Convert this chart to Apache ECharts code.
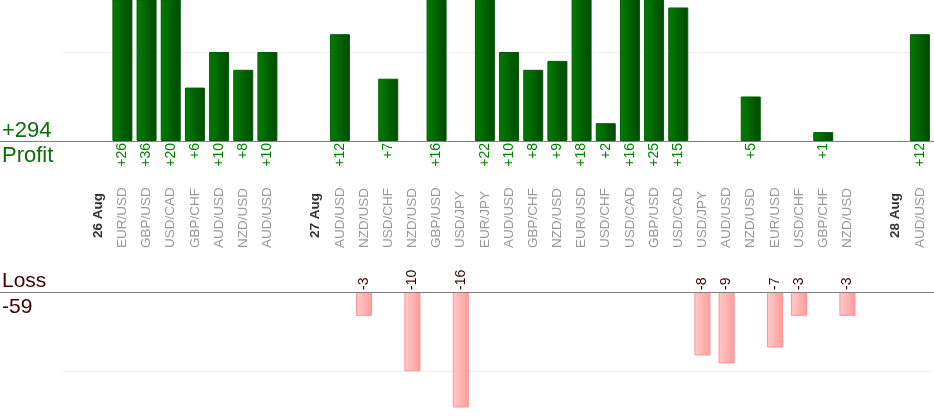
<!DOCTYPE html>
<html><head><meta charset="utf-8">
<script src="https://cdn.jsdelivr.net/npm/echarts@6/dist/echarts.min.js"></script>
<style>html,body{margin:0;padding:0;background:#fff}#c{width:934px;height:420px}</style>
</head><body><div id="c"></div>
<script>
const categories = ['', '26 Aug', 'EUR/USD','GBP/USD','USD/CAD','GBP/CHF','AUD/USD','NZD/USD','AUD/USD',
  '', '27 Aug', 'AUD/USD','NZD/USD','USD/CHF','NZD/USD','GBP/USD','USD/JPY','EUR/JPY','AUD/USD','GBP/CHF','NZD/USD',
  'EUR/USD','USD/CHF','USD/CAD','GBP/USD','USD/CAD','USD/JPY','AUD/USD','NZD/USD','EUR/USD','USD/CHF','GBP/CHF','NZD/USD',
  '', '28 Aug', 'AUD/USD'];
const pnl = [null, null, 26, 36, 20, 6, 10, 8, 10,
  null, null, 12, -3, 7, -10, 16, -16, 22, 10, 8, 9,
  18, 2, 16, 25, 15, -8, -9, 5, -7, -3, 1, -3,
  null, null, 12];

const profit = pnl.map(v => (v != null && v > 0) ? v : null);
const loss = pnl.map(v => (v != null && v < 0) ? -v : null);
const totalProfit = profit.reduce((a, v) => a + (v || 0), 0);
const totalLoss = loss.reduce((a, v) => a + (v || 0), 0);

const FONT = '"Liberation Sans", Arial, sans-serif';
const chart = echarts.init(document.getElementById('c'));
const hidden = { axisLine: { show: false }, axisTick: { show: false } };
chart.setOption({
  animation: false,
  textStyle: { fontFamily: FONT },
  grid: [
    { left: 62, right: 2, top: 0, height: 141 },
    { left: 62, right: 2, top: 292, height: 115 }
  ],
  xAxis: [
    Object.assign({ gridIndex: 0, type: 'category', data: categories, axisLabel: { show: false } }, hidden),
    Object.assign({ gridIndex: 1, type: 'category', data: categories, position: 'top',
      axisLabel: { interval: 0, rotate: 90, margin: 44, align: 'left', verticalAlign: 'middle',
        fontSize: 13.5, color: '#999', fontFamily: FONT,
        formatter: v => /Aug/.test(v) ? '{d|' + v + '}' : v,
        rich: { d: { fontWeight: 'bold', color: '#333', fontSize: 13.5, fontFamily: FONT, padding: [0, 0, 0, 10] } } } }, hidden)
  ],
  yAxis: [
    Object.assign({ gridIndex: 0, type: 'value', min: 0, max: 15.84, interval: 10, axisLabel: { show: false },
      splitLine: { show: true, showMinLine: false, showMaxLine: false, lineStyle: { color: '#eeeeee' } } }, hidden),
    Object.assign({ gridIndex: 1, type: 'value', inverse: true, min: 0, max: 14.5, interval: 10, axisLabel: { show: false },
      splitLine: { show: true, showMinLine: false, showMaxLine: false, lineStyle: { color: '#eeeeee' } } }, hidden)
  ],
  series: [
    { type: 'bar', xAxisIndex: 0, yAxisIndex: 0, data: profit, barWidth: 20,
      itemStyle: { color: { type: 'linear', x: 0, y: 0, x2: 1, y2: 0,
        colorStops: [{ offset: 0, color: '#007e00' }, { offset: 1, color: '#004800' }] },
        borderColor: '#005c00', borderWidth: 1 },
      label: { show: true, position: 'bottom', distance: 2, rotate: 90, align: 'right', verticalAlign: 'middle',
        color: '#008000', fontSize: 14, fontFamily: FONT, formatter: p => '+' + p.value } },
    { type: 'bar', xAxisIndex: 1, yAxisIndex: 1, data: loss, barWidth: 16,
      itemStyle: { color: { type: 'linear', x: 0, y: 0, x2: 1, y2: 0,
        colorStops: [{ offset: 0, color: '#ffcaca' }, { offset: 1, color: '#ff9c9c' }] },
        borderColor: '#ff9090', borderWidth: 1 },
      label: { show: true, position: 'top', distance: 2, rotate: 90, align: 'left', verticalAlign: 'middle',
        color: '#400000', fontSize: 14, fontFamily: FONT, formatter: p => '-' + p.value } }
  ],
  graphic: [
    { type: 'line', z: 10, shape: { x1: 0, y1: 141.5, x2: 934, y2: 141.5 }, style: { stroke: '#808080', lineWidth: 1 } },
    { type: 'line', z: 10, shape: { x1: 0, y1: 292.5, x2: 934, y2: 292.5 }, style: { stroke: '#808080', lineWidth: 1 } },
    { type: 'text', x: 2, y: 131, style: { text: '+' + totalProfit, fill: '#0a6e0a', font: '22px ' + FONT, verticalAlign: 'middle' } },
    { type: 'text', x: 2, y: 156, style: { text: 'Profit', fill: '#0a6e0a', font: '22px ' + FONT, verticalAlign: 'middle' } },
    { type: 'text', x: 2, y: 281, style: { text: 'Loss', fill: '#3c0000', font: '21px ' + FONT, verticalAlign: 'middle' } },
    { type: 'text', x: 2, y: 307, style: { text: '-' + totalLoss, fill: '#3c0000', font: '21px ' + FONT, verticalAlign: 'middle' } }
  ]
});
</script></body></html>
